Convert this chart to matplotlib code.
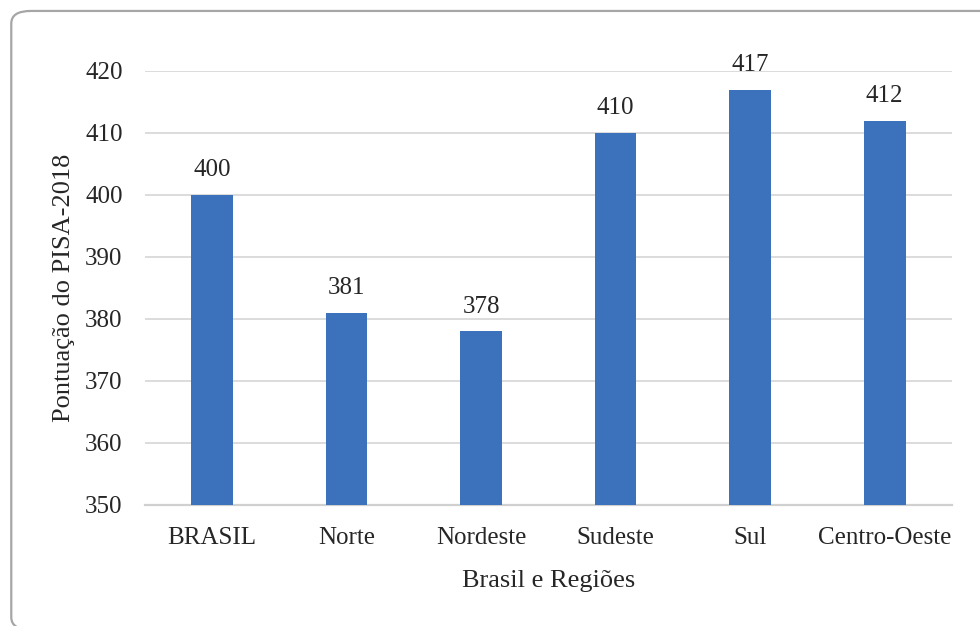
"""Bar chart of PISA-2018 scores for Brazil and its regions."""

import matplotlib

matplotlib.use("Agg")
import matplotlib.pyplot as plt
from matplotlib.patches import FancyBboxPatch

REGIONS = ["BRASIL", "Norte", "Nordeste", "Sudeste", "Sul", "Centro-Oeste"]
SCORES = [400, 381, 378, 410, 417, 412]
Y_TICKS = [350, 360, 370, 380, 390, 400, 410, 420]

BAR_COLOR = "#3c72bb"
GRID_COLOR = "#d9d9d9"
TEXT_COLOR = "#262626"


def main() -> None:
    plt.rcParams["font.family"] = ["Liberation Serif", "DejaVu Serif"]

    fig = plt.figure(figsize=(9.8, 6.26), dpi=100)
    ax = fig.add_axes([0.1477, 0.1933, 0.8237, 0.6933])

    # rounded frame around the whole chart, open past the right and bottom edges
    frame = FancyBboxPatch(
        (0.0115, -0.006), 1.05, 0.9885,
        boxstyle="round,pad=0,rounding_size=0.02",
        transform=fig.transFigure, facecolor="none",
        edgecolor="#a6a6a6", linewidth=1.6, clip_on=False,
    )
    fig.patches.append(frame)

    x = range(len(REGIONS))
    ax.bar(x, SCORES, width=0.31, color=BAR_COLOR, zorder=3)
    for idx, value in enumerate(SCORES):
        ax.annotate(
            f"{value}", (idx, value), xytext=(0, 10), textcoords="offset points",
            ha="center", va="bottom", fontsize=18, color=TEXT_COLOR,
            annotation_clip=False,
        )

    ax.set_xlim(-0.5, len(REGIONS) - 0.5)
    ax.set_ylim(350, 420)
    ax.set_yticks(Y_TICKS)
    ax.set_xticks(list(x))
    ax.set_xticklabels(REGIONS)
    ax.tick_params(axis="both", length=0, labelsize=18, colors=TEXT_COLOR)
    ax.tick_params(axis="x", pad=16)
    ax.tick_params(axis="y", pad=16)
    ax.grid(axis="y", color=GRID_COLOR, linewidth=1.3, zorder=0)
    ax.set_axisbelow(True)
    for name, spine in ax.spines.items():
        spine.set_visible(name == "bottom")
    ax.spines["bottom"].set_color("#d0d0d0")
    ax.spines["bottom"].set_linewidth(1.6)

    ax.set_xlabel("Brasil e Regiões", fontsize=19, color=TEXT_COLOR, labelpad=15)
    ax.set_ylabel("Pontuação do PISA-2018", fontsize=19, color=TEXT_COLOR, labelpad=7)

    fig.savefig("out.png", dpi=100)
    plt.close(fig)


if __name__ == "__main__":
    main()
